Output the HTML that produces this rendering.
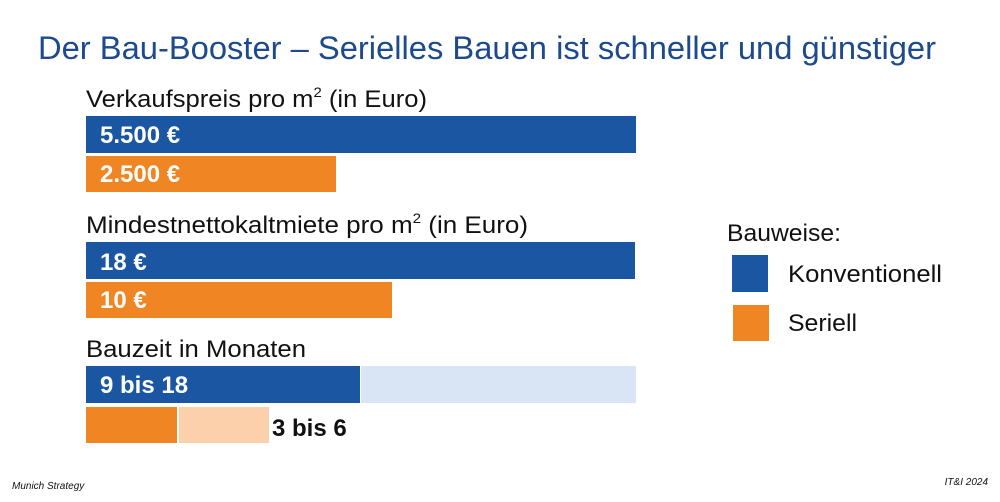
<!DOCTYPE html>
<html><head><meta charset="utf-8"><style>
html,body{margin:0;padding:0;background:#fff}
svg{display:block}
text{font-family:"Liberation Sans","DejaVu Sans",sans-serif}
</style></head><body>
<svg width="1000" height="502" viewBox="0 0 1000 502" xmlns="http://www.w3.org/2000/svg">
<rect width="1000" height="502" fill="#fff"/>
<text x="38" y="59" font-size="32" fill="#1c4a8c" textLength="898" lengthAdjust="spacingAndGlyphs">Der Bau-Booster – Serielles Bauen ist schneller und günstiger</text>

<text x="86" y="107" font-size="24" fill="#111" textLength="341" lengthAdjust="spacingAndGlyphs">Verkaufspreis pro m<tspan font-size="14" dy="-10">2</tspan><tspan dy="10"> (in Euro)</tspan></text>
<rect x="86" y="116" width="550" height="37" fill="#1b56a3"/>
<text x="100" y="143" font-size="24" font-weight="bold" fill="#fff">5.500 €</text>
<rect x="86" y="156" width="250" height="36" fill="#f08524"/>
<text x="100" y="182" font-size="24" font-weight="bold" fill="#fff">2.500 €</text>

<text x="86" y="233" font-size="24" fill="#111" textLength="442" lengthAdjust="spacingAndGlyphs">Mindestnettokaltmiete pro m<tspan font-size="14" dy="-10">2</tspan><tspan dy="10"> (in Euro)</tspan></text>
<rect x="86" y="242" width="549" height="37" fill="#1b56a3"/>
<text x="100" y="270" font-size="24" font-weight="bold" fill="#fff">18 €</text>
<rect x="86" y="282" width="306" height="36" fill="#f08524"/>
<text x="100" y="308" font-size="24" font-weight="bold" fill="#fff">10 €</text>

<text x="86" y="357" font-size="24" fill="#111" textLength="220" lengthAdjust="spacingAndGlyphs">Bauzeit in Monaten</text>
<rect x="86" y="366" width="274" height="37" fill="#1b56a3"/>
<rect x="361" y="366" width="275" height="37" fill="#d9e5f5"/>
<text x="100" y="393" font-size="24" font-weight="bold" fill="#fff">9 bis 18</text>
<rect x="86" y="407" width="91" height="36" fill="#f08524"/>
<rect x="179" y="407" width="90" height="36" fill="#fbd0aa"/>
<text x="272" y="436" font-size="24" font-weight="bold" fill="#111">3 bis 6</text>

<text x="727" y="241" font-size="24" fill="#111" textLength="114" lengthAdjust="spacingAndGlyphs">Bauweise:</text>
<rect x="732" y="255" width="36" height="37" fill="#1b56a3"/>
<text x="788" y="282" font-size="24" fill="#111" textLength="154" lengthAdjust="spacingAndGlyphs">Konventionell</text>
<rect x="733" y="305" width="36" height="36" fill="#f08524"/>
<text x="788" y="331" font-size="24" fill="#111" textLength="69" lengthAdjust="spacingAndGlyphs">Seriell</text>

<text x="12" y="489" font-size="10" font-style="italic" fill="#111">Munich Strategy</text>
<text x="988" y="485" font-size="10" font-style="italic" fill="#111" text-anchor="end">IT&amp;I 2024</text>
</svg>
</body></html>
